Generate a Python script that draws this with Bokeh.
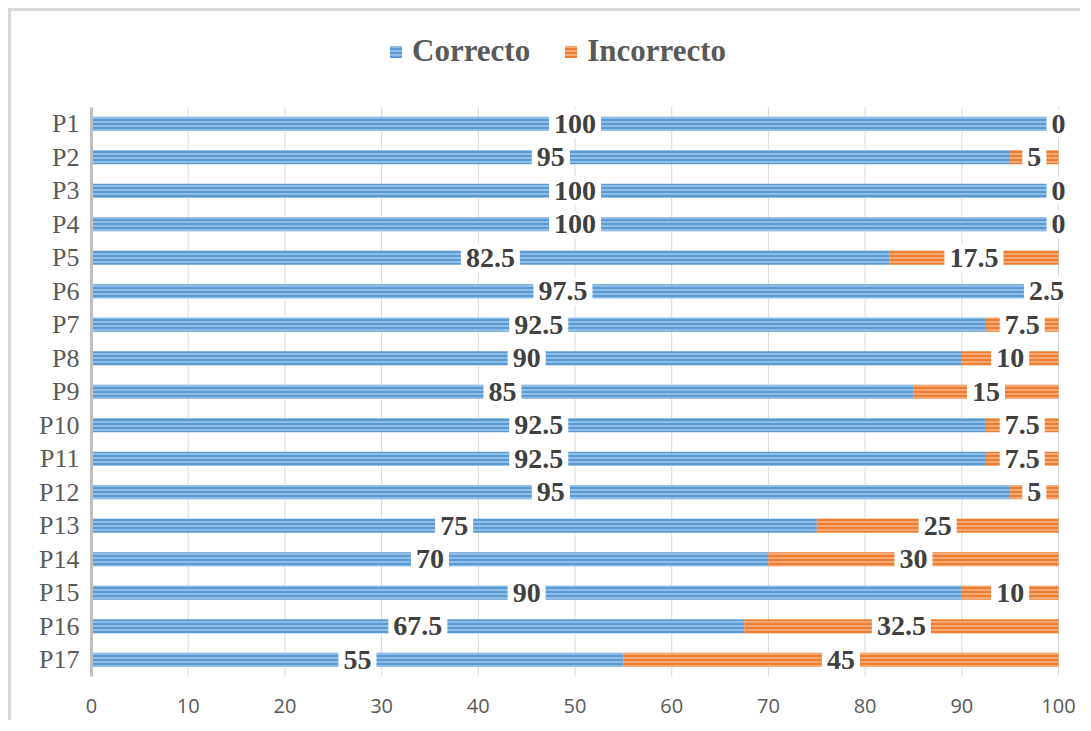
from bokeh.plotting import figure
from bokeh.models import ColumnDataSource, Legend, LegendItem, FixedTicker, Range1d
from bokeh.core.properties import value
from bokeh.embed import file_html
from bokeh.resources import INLINE

questions = ["P1", "P2", "P3", "P4", "P5", "P6", "P7", "P8", "P9", "P10",
             "P11", "P12", "P13", "P14", "P15", "P16", "P17"]
correcto = [100, 95, 100, 100, 82.5, 97.5, 92.5, 90, 85, 92.5, 92.5, 95, 75, 70, 90, 67.5, 55]
incorrecto = [0, 5, 0, 0, 17.5, 2.5, 7.5, 10, 15, 7.5, 7.5, 5, 25, 30, 10, 32.5, 45]
x_ticks = [0, 10, 20, 30, 40, 50, 60, 70, 80, 90, 100]

def fmt(v):
    return str(int(v)) if float(v).is_integer() else str(v)

pos = list(range(len(questions)))  # row index, P1 on top

src = ColumnDataSource(dict(
    y=pos,
    q=questions,
    c_end=correcto,
    i_start=correcto,
    i_end=[a + b for a, b in zip(correcto, incorrecto)],
    c_mid=[a / 2 for a in correcto],
    i_mid=[a + b / 2 for a, b in zip(correcto, incorrecto)],
    c_lab=[fmt(v) for v in correcto],
    i_lab=[fmt(v) for v in incorrecto],
))

n = len(questions)
FRAME_H = 665
ROW_PX = 33.5
y_top = (n - 0.5) - FRAME_H / ROW_PX

p = figure(
    width=1072, height=712,
    y_range=Range1d(n - 0.5, y_top),
    x_range=Range1d(0, 102.48),
    output_backend="svg", toolbar_location=None,
    min_border_left=80, min_border_right=1, min_border_top=0, min_border_bottom=47,
)
p.styles = {"margin-left": "8px", "margin-top": "8px",
            "border-left": "3px solid #d9d9d9", "border-top": "3px solid #d9d9d9"}
p.outline_line_color = None

BLUE, BLUE_L = "#5B9BD5", "#A6CBEE"
ORANGE, ORANGE_L = "#ED7D31", "#F7BC92"

# vertical gridlines limited to bar area
p.segment(x0=x_ticks, x1=x_ticks, y0=[-0.5] * len(x_ticks), y1=[n - 0.5] * len(x_ticks),
          line_color="#D9D9D9", line_width=1)

r_c = p.hbar(y="y", left=0, right="c_end", height=0.42, source=src,
             fill_color=BLUE, line_color=None,
             hatch_pattern="horizontal_line", hatch_color=BLUE_L,
             hatch_scale=4, hatch_weight=1.4)
r_i = p.hbar(y="y", left="i_start", right="i_end", height=0.42, source=src,
             fill_color=ORANGE, line_color=None,
             hatch_pattern="horizontal_line", hatch_color=ORANGE_L,
             hatch_scale=4, hatch_weight=1.4)

lab_kw = dict(text_font=value("Liberation Serif"), text_font_style="bold",
              text_font_size="28px", text_color="#404040",
              text_align="center", text_baseline="middle",
              background_fill_color="white", padding=5)
p.text(x="c_mid", y="y", text="c_lab", source=src, **lab_kw)
p.text(x="i_mid", y="y", text="i_lab", source=src, **lab_kw)

# axes
p.xaxis.ticker = FixedTicker(ticks=x_ticks)
p.xaxis.axis_line_color = None
p.xaxis.major_tick_line_color = None
p.xaxis.minor_tick_line_color = None
p.xaxis.major_label_text_font = "Open Sans"
p.xaxis.major_label_text_font_size = "20px"
p.xaxis.major_label_text_color = "#595959"
p.xaxis.major_label_standoff = 16

p.yaxis.ticker = FixedTicker(ticks=pos)
p.yaxis.major_label_overrides = {i: q for i, q in zip(pos, questions)}
p.yaxis.bounds = (-0.5, n - 0.5)
p.yaxis.axis_line_color = "#BFBFBF"
p.yaxis.axis_line_width = 3
p.yaxis.major_tick_line_color = None
p.yaxis.minor_tick_line_color = None
p.yaxis.major_label_text_font = "Liberation Serif"
p.yaxis.major_label_text_font_size = "26px"
p.yaxis.major_label_text_color = "#595959"
p.yaxis.major_label_standoff = 6

p.xgrid.grid_line_color = None
p.ygrid.grid_line_color = None

legend = Legend(
    items=[LegendItem(label="Correcto", renderers=[r_c]),
           LegendItem(label="Incorrecto", renderers=[r_i])],
    orientation="horizontal", location=(297, 607),
    glyph_width=15, glyph_height=15, label_standoff=9, spacing=33,
    padding=0, margin=0, border_line_color=None, background_fill_alpha=0,
    label_text_font="Liberation Serif", label_text_font_style="bold",
    label_text_font_size="31px", label_text_color="#595959",
)
p.add_layout(legend, "center")

open("out.html", "w").write(file_html(p, INLINE))
